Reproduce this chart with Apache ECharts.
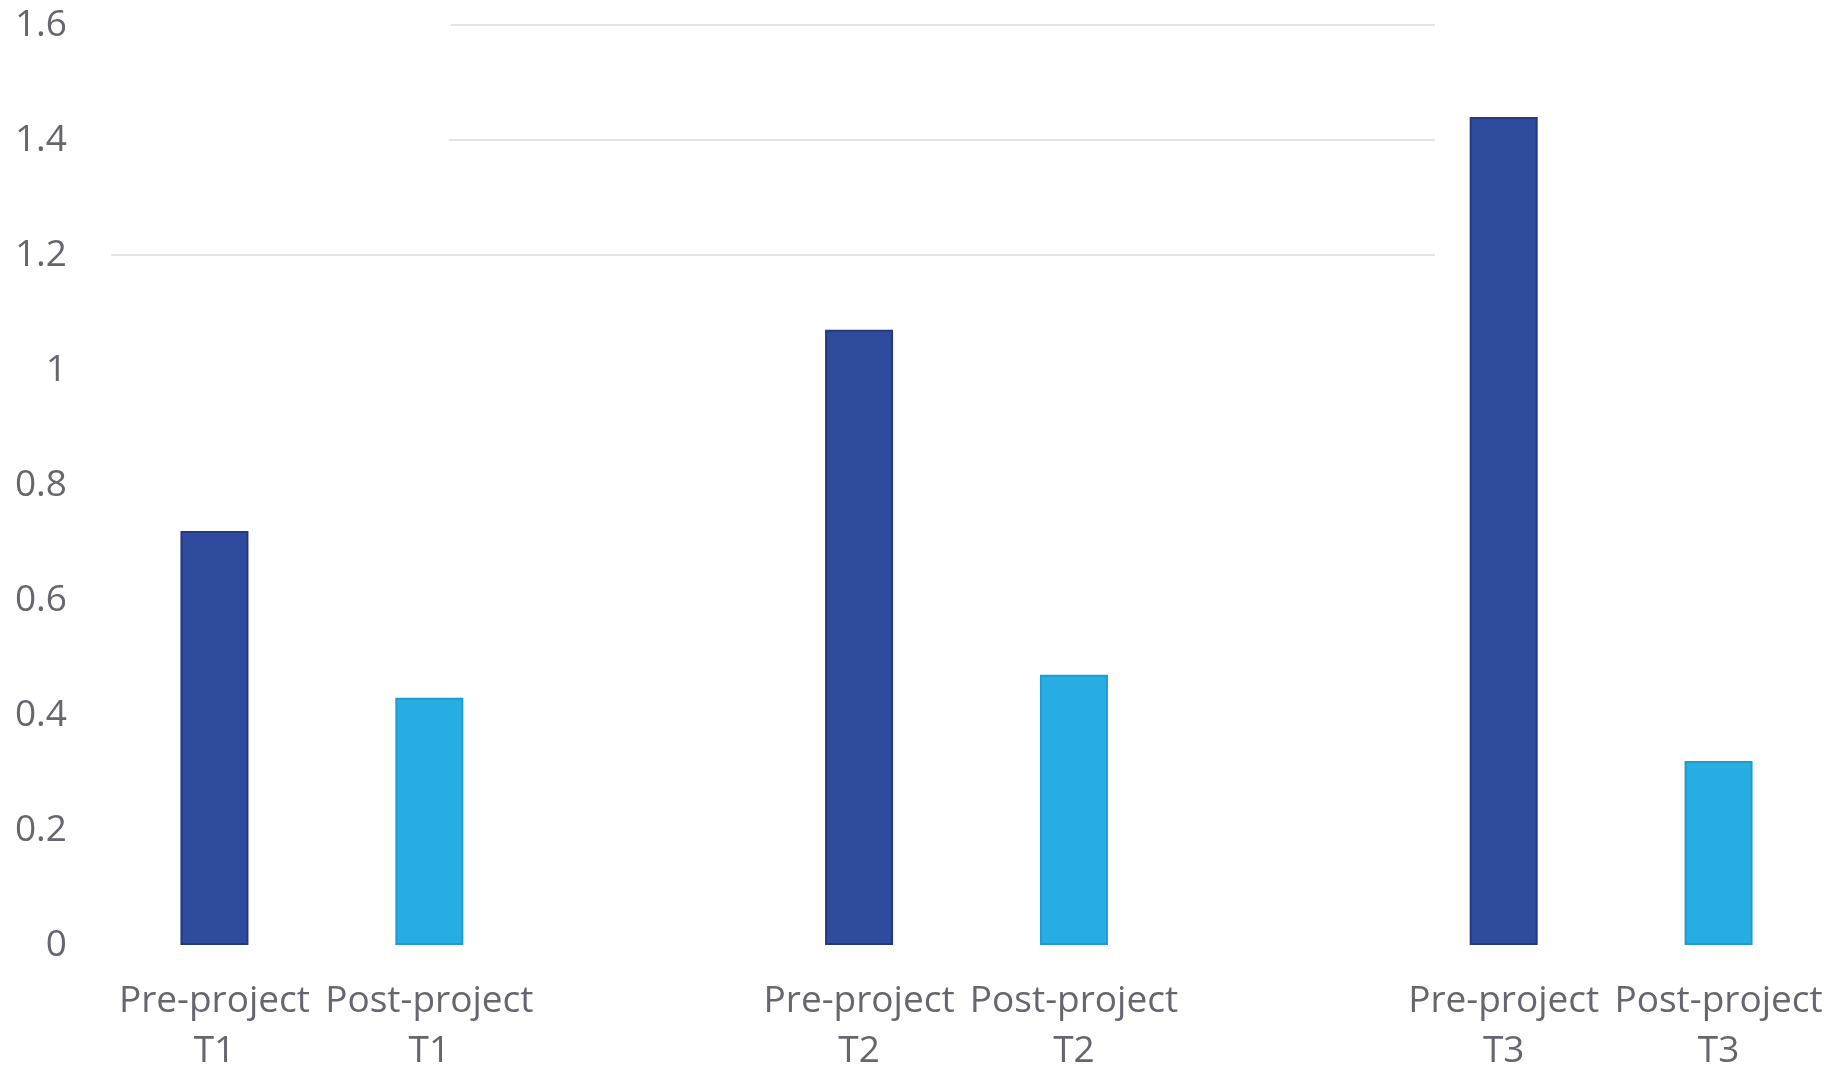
<!DOCTYPE html>
<html>
<head>
<meta charset="utf-8">
<title>Pre / post project</title>
<script src="https://cdn.jsdelivr.net/npm/echarts@6/dist/echarts.min.js"></script>
<style>
  html, body { margin: 0; padding: 0; background: #fff; }
  #chart { width: 1847px; height: 1073px; }
</style>
</head>
<body>
<div id="chart"></div>
<script>
// slots on the x axis, blank ones give the gaps between T1/T2/T3
const categories = [
  'Pre-project\nT1', 'Post-project\nT1', '',
  'Pre-project\nT2', 'Post-project\nT2', '',
  'Pre-project\nT3', 'Post-project\nT3'
]
const preSlots = [0, 3, 6]
const postSlots = [1, 4, 7]
const preValues = [0.72, 1.07, 1.44]
const postValues = [0.43, 0.47, 0.32]
const yTicks = [0, 0.2, 0.4, 0.6, 0.8, 1, 1.2, 1.4, 1.6]

// the faint leftover gridlines, in slot units (0..8) on a hidden value axis
const gridY = [1.2, 1.4, 1.6]
const gridFrom = [0.02, 1.59, 1.6]
const gridTo = [6.18, 6.18, 6.18]

function fill(slots, values) {
  let arr = categories.map(() => '-')
  slots.forEach((s, i) => { arr[s] = values[i] })
  return arr
}

let gridData = []
gridY.forEach((y, i) => {
  gridData.push([gridFrom[i], y], [gridTo[i], y], '-')
})

let myChart = echarts.init(document.getElementById('chart'))
const options = {
  animation: false,
  grid: { left: 107, right: 21, top: 25, bottom: 128, outerBoundsMode: 'none' },
  xAxis: [
    {
      type: 'category',
      data: categories,
      axisLine: { show: false },
      axisTick: { show: false },
      axisLabel: {
        interval: 0,
        margin: 31,
        color: '#66666e',
        fontFamily: 'Open Sans',
        fontSize: 37,
        lineHeight: 50
      }
    },
    {
      type: 'value',
      min: 0,
      max: 8,
      show: false
    }
  ],
  yAxis: {
    type: 'value',
    min: yTicks[0],
    max: yTicks[yTicks.length - 1],
    interval: 0.2,
    axisLine: { show: false },
    axisTick: { show: false },
    splitLine: { show: false },
    axisLabel: {
      margin: 40,
      color: '#66666e',
      fontFamily: 'Open Sans',
      fontSize: 37
    }
  },
  series: [
    {
      name: 'grid',
      type: 'line',
      xAxisIndex: 1,
      data: gridData,
      symbol: 'none',
      silent: true,
      lineStyle: { color: '#e4e4e4', width: 2 }
    },
    {
      name: 'Pre-project',
      type: 'bar',
      data: fill(preSlots, preValues),
      barWidth: 68,
      barGap: '-100%',
      itemStyle: { color: '#2e4b9d', borderColor: '#243a7e', borderWidth: 2 }
    },
    {
      name: 'Post-project',
      type: 'bar',
      data: fill(postSlots, postValues),
      barWidth: 68,
      itemStyle: { color: '#27ade2', borderColor: '#1e9bd0', borderWidth: 2 }
    }
  ]
}
myChart.setOption(options)
</script>
</body>
</html>
